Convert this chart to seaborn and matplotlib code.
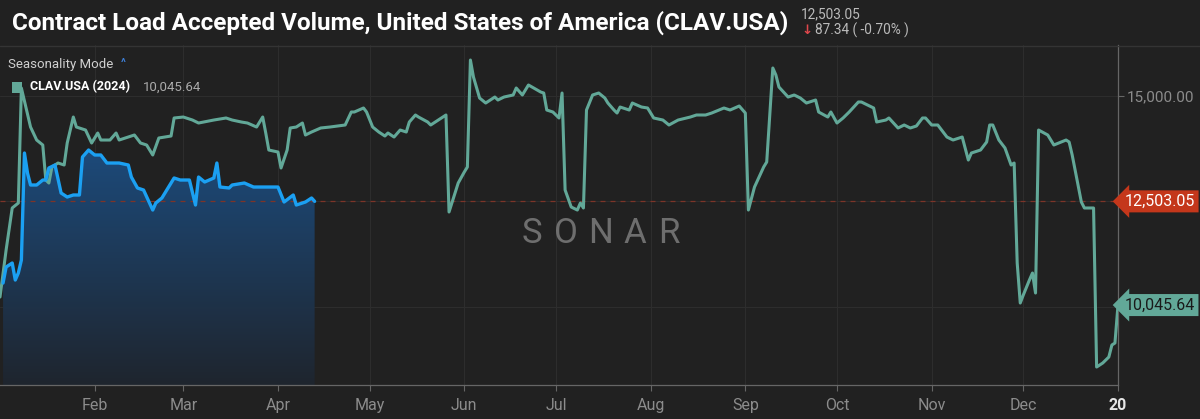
import matplotlib
matplotlib.use("Agg")
import matplotlib.pyplot as plt
import matplotlib.transforms as mtransforms
from matplotlib.colors import LinearSegmentedColormap
from matplotlib.patches import Rectangle
import seaborn as sns
import numpy as np
import pandas as pd

# day of year (0 = Jan 1) and CLAV.USA values
days_2024 = [0, 2, 4, 6, 7, 10, 12, 14, 15, 16, 17, 19, 21, 22, 24, 25, 28, 30, 32, 33,
             36, 38, 39, 44, 46, 48, 50, 52, 56, 57, 60, 63, 65, 70, 74, 76, 79, 81, 84, 86,
             87, 88, 91, 92, 94, 95, 97, 99, 100, 102, 105, 108, 113, 115, 116, 119, 120, 122, 124, 126,
             127, 129, 131, 133, 134, 136, 137, 140, 141, 145, 146, 147, 150, 152, 153, 154, 155, 157, 159, 162,
             163, 165, 168, 169, 171, 173, 177, 178, 179, 181, 183, 184, 185, 187, 189, 190, 191, 192, 194, 196,
             198, 199, 201, 202, 203, 206, 207, 210, 212, 214, 217, 219, 222, 226, 228, 231, 233, 237, 239, 242,
             244, 245, 247, 250, 251, 253, 254, 255, 258, 260, 262, 264, 267, 268, 271, 272, 274, 276, 278, 281,
             282, 286, 287, 290, 291, 294, 296, 298, 300, 302, 303, 305, 307, 310, 312, 315, 317, 318, 321, 323,
             324, 325, 327, 329, 331, 332, 333, 334, 335, 337, 338, 339, 340, 343, 345, 349, 350, 351, 354, 355,
             358, 359, 361, 363, 364, 365, 366]
clav_2024 = [10236, 11350, 12346, 12464, 15190, 14265, 13957, 13839, 13009, 12938, 13317, 13412, 13365, 13886, 14502, 14265, 14194, 13886, 14123, 13957,
             13957, 14123, 13957, 14076, 13886, 13839, 13602, 14005, 14052, 14479, 14502, 14431, 14360, 14431, 14479, 14431, 14384, 14360, 14265, 14502,
             14123, 13720, 13673, 13294, 13720, 14242, 14265, 14360, 14076, 14147, 14242, 14265, 14313, 14621, 14621, 14716, 14621, 14265, 14147, 14052,
             14123, 14028, 14194, 14147, 14384, 14550, 14502, 14384, 14313, 14502, 14550, 12251, 12938, 13199, 13317, 15853, 15450, 14953, 14834, 14976,
             14905, 14976, 15024, 15190, 15024, 15261, 15095, 15071, 14668, 14621, 14479, 15071, 12772, 12369, 12298, 12464, 12346, 14668, 15024, 15071,
             14953, 14834, 14668, 14597, 14739, 14668, 14834, 14739, 14716, 14479, 14431, 14313, 14431, 14502, 14550, 14550, 14597, 14716, 14668, 14763,
             14597, 12298, 12843, 13317, 13436, 15664, 15498, 15213, 14976, 15024, 14953, 14834, 14905, 14621, 14502, 14621, 14360, 14479, 14621, 14858,
             14858, 14716, 14384, 14431, 14479, 14242, 14313, 14242, 14289, 14479, 14479, 14313, 14313, 14028, 13957, 14028, 13483, 13649, 13720, 13910,
             14313, 14313, 13957, 13768, 13365, 13412, 11042, 10094, 10284, 10639, 10805, 10331, 14194, 14076, 13839, 13957, 13910, 13602, 12488, 12346,
             12346, 8577, 8672, 8814, 9099, 9146, 10045.64]

days_2025 = [1, 2, 4, 5, 6, 7, 8, 9, 10, 12, 14, 15, 16, 18, 20, 22, 24, 26, 27, 29,
             31, 33, 35, 39, 42, 43, 45, 47, 50, 51, 53, 57, 59, 62, 64, 65, 67, 70, 71, 72,
             75, 76, 80, 83, 86, 91, 93, 96, 97, 100, 102, 103]
clav_2025 = [10568, 10947, 11042, 10639, 10805, 11113, 13649, 13175, 12891, 12891, 13009, 13009, 13294, 13365, 12701, 12606, 12654, 12654, 13554, 13720,
             13602, 13602, 13412, 13412, 13365, 13080, 12820, 12772, 12298, 12464, 12583, 13057, 13009, 13009, 12417, 13080, 12962, 13057, 13412, 12843,
             12820, 12891, 12938, 12843, 12843, 12843, 12488, 12654, 12417, 12488, 12583, 12503.05]

month_days = [31, 60, 91, 121, 152, 182, 213, 244, 274, 305, 335, 366]
month_labels = ["Feb", "Mar", "Apr", "May", "Jun", "Jul", "Aug", "Sep", "Oct", "Nov", "Dec", "20"]

current_value = 12503.05
last_2024 = 10045.64

BG = "#212121"
GREEN = "#62a898"
BLUE = "#1ba0f2"
GRAY = "#8c8c8c"

sns.set_theme(style="dark", rc={"axes.facecolor": BG, "figure.facecolor": BG})
plt.rcParams["font.family"] = ["Roboto", "DejaVu Sans"]

df24 = pd.DataFrame({"day": days_2024, "value": clav_2024})
df25 = pd.DataFrame({"day": days_2025, "value": clav_2025})

fig = plt.figure(figsize=(12, 4.19), dpi=100)
ax = fig.add_axes([0, 1 - 385 / 419, 1118 / 1200, 340 / 419])
ymin, ymax = 8151, 16209

# gradient fill under the 2025 line
poly = ax.fill_between(df25["day"], df25["value"], ymin, color="none", lw=0)
cmap = LinearSegmentedColormap.from_list("fade", ["#1f252e", "#1c4a7a"])
grad = np.linspace(0, 1, 256).reshape(-1, 1)
img = ax.imshow(grad, extent=[0, max(days_2025), ymin, max(clav_2025)], origin="lower",
                aspect="auto", cmap=cmap, zorder=1)
img.set_clip_path(poly.get_paths()[0], transform=ax.transData)

sns.lineplot(data=df24, x="day", y="value", ax=ax, color=GREEN, lw=2.2,
             estimator=None, sort=False, zorder=3)
sns.lineplot(data=df25, x="day", y="value", ax=ax, color=BLUE, lw=2.4,
             estimator=None, sort=False, zorder=4)

ax.axhline(current_value, color="#7d3428", lw=0.9, ls=(0, (4, 4)), zorder=2)

ax.set_xlim(0, 366)
ax.set_ylim(ymin, ymax)
ax.set_xlabel("")
ax.set_ylabel("")

# grid
for d in month_days[:-1]:
    ax.axvline(d, color="#2d2d2d", lw=0.8, zorder=0)
for v in [10000, 12500, 15000]:
    ax.axhline(v, color="#2d2d2d", lw=0.8, zorder=0)

ax.set_xticks(month_days)
ax.set_xticklabels(month_labels)
ax.tick_params(axis="x", colors="#666666", length=4, width=0.8, direction="out",
               labelcolor=GRAY, labelsize=11.5, pad=5, bottom=True)
ax.get_xticklabels()[-1].set_color("#e6e6e6")
ax.get_xticklabels()[-1].set_fontweight("bold")
ax.yaxis.tick_right()
ax.set_yticks([15000])
ax.set_yticklabels(["15,000.00"])
ax.tick_params(axis="y", colors="#666666", length=4, width=0.8, direction="out",
               labelcolor=GRAY, labelsize=11, pad=2, right=True, left=False)
for side in ["top", "left"]:
    ax.spines[side].set_visible(False)
for side in ["bottom", "right"]:
    ax.spines[side].set_visible(True)
    ax.spines[side].set_color("#666666")
    ax.spines[side].set_linewidth(0.9)

# value tags on the right axis
blend = mtransforms.blended_transform_factory(ax.transAxes, ax.transData)
ax.text(1.006, current_value, "12,503.05", transform=blend, ha="left", va="center",
        color="white", fontsize=11.5, clip_on=False, zorder=6,
        bbox=dict(boxstyle="larrow,pad=0.22", fc="#c4371b", ec="none"))
ax.text(1.006, last_2024, "10,045.64", transform=blend, ha="left", va="center",
        color="#1a1a1a", fontsize=11.5, clip_on=False, zorder=6,
        bbox=dict(boxstyle="larrow,pad=0.22", fc=GREEN, ec="none"))

# watermark
for i, ch in enumerate("SONAR"):
    ax.text(0.476 + i * 0.0306, 0.447, ch, transform=ax.transAxes, ha="center", va="center",
            color="#6e6e6e", fontsize=25, zorder=2)

# header
fig.add_artist(plt.Line2D([0, 1], [1 - 46 / 419] * 2, color="#343434", lw=1))
fig.text(12 / 1200, 1 - 23 / 419, "Contract Load Accepted Volume, United States of America (CLAV.USA)",
         color="white", fontsize=17.5, fontweight="bold", va="center", ha="left")
fig.text(801 / 1200, 1 - 14 / 419, "12,503.05", color="#bbbbbb", fontsize=9.8, va="center")
fig.text(801 / 1200, 1 - 30 / 419, "↓", color="#e0474c", fontsize=9.5, va="center",
         fontweight="bold")
fig.text(815 / 1200, 1 - 30 / 419, "87.34 ( -0.70% )", color="#bbbbbb", fontsize=9.8, va="center")

# legend area
fig.text(8 / 1200, 1 - 64 / 419, "Seasonality Mode", color="#d0d0d0", fontsize=9.5, va="center")
fig.text(121 / 1200, 1 - 63 / 419, "^", color="#3d7fd8", fontsize=8, va="center", fontweight="bold")
fig.add_artist(Rectangle((12 / 1200, 1 - 93 / 419), 10 / 1200, 11 / 419, transform=fig.transFigure,
                         color=GREEN, lw=0))
fig.text(30 / 1200, 1 - 87 / 419, "CLAV.USA (2024)", color="white", fontsize=9, va="center",
         fontweight="bold")
fig.text(143 / 1200, 1 - 87 / 419, "10,045.64", color="#aaaaaa", fontsize=9.5, va="center")

fig.savefig("out.png", dpi=100, facecolor=BG)
plt.close(fig)
